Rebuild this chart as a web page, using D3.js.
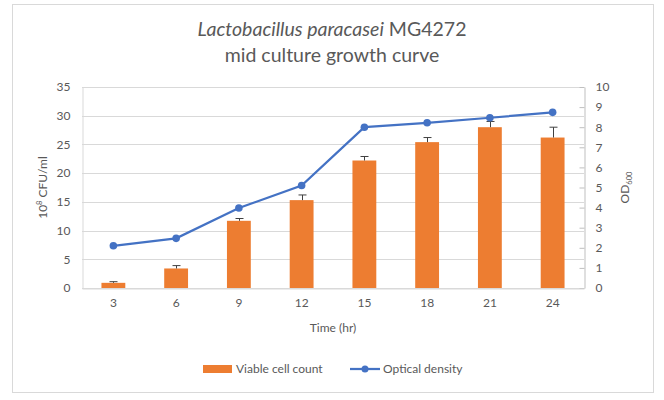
<!DOCTYPE html>
<html>
<head>
<meta charset="utf-8">
<script src="https://cdn.jsdelivr.net/npm/d3@7"></script>
<style>
  body { margin: 0; background: #fff; }
  text { font-family: Lato, "Open Sans", sans-serif; fill: #595959; }
</style>
</head>
<body>
<script>
// data
const hours = ["3", "6", "9", "12", "15", "18", "21", "24"];
const cellCount = [0.9, 3.4, 11.7, 15.3, 22.2, 25.4, 28.0, 26.2]; // 10^8 CFU/ml
const cellErr = [0.2, 0.5, 0.4, 0.9, 0.7, 0.8, 1.0, 1.8];
const opticalDensity = [2.1, 2.47, 3.98, 5.1, 8.0, 8.22, 8.47, 8.74];
const leftTicks = [0, 5, 10, 15, 20, 25, 30, 35];
const rightTicks = [0, 1, 2, 3, 4, 5, 6, 7, 8, 9, 10];

const width = 664;
const height = 400;
const margin = { top: 87, right: 80, bottom: 112, left: 82 };

const orange = "#ED7D31";
const blue = "#4472C4";
const grid = "#d9d9d9";

const svg = d3
  .select("body")
  .append("svg")
  .attr("width", width)
  .attr("height", height);

// chart border
svg
  .append("rect")
  .attr("x", 12.5)
  .attr("y", 4.5)
  .attr("width", 641)
  .attr("height", 388)
  .attr("fill", "#fff")
  .attr("stroke", "#d9d9d9");

const x = d3
  .scaleBand()
  .domain(hours)
  .range([margin.left, width - margin.right])
  .paddingInner(0.62)
  .paddingOuter(0.31);

const yLeft = d3
  .scaleLinear()
  .domain([0, 35])
  .range([height - margin.bottom, margin.top]);

const yRight = d3
  .scaleLinear()
  .domain([0, 10])
  .range([height - margin.bottom, margin.top]);

// gridlines
svg
  .append("g")
  .selectAll("line")
  .data(leftTicks)
  .join("line")
  .attr("x1", margin.left)
  .attr("x2", width - margin.right)
  .attr("y1", (d) => Math.round(yLeft(d)) + 0.5)
  .attr("y2", (d) => Math.round(yLeft(d)) + 0.5)
  .attr("stroke", grid);

// left axis
const leftAxis = svg
  .append("g")
  .attr("transform", `translate(${margin.left + 0.5},0)`)
  .call(d3.axisLeft(yLeft).tickValues(leftTicks).tickSize(0).tickPadding(12));
leftAxis.select(".domain").attr("stroke", grid);
leftAxis.selectAll("text").attr("font-size", 12);

// right axis
const rightAxis = svg
  .append("g")
  .attr("transform", `translate(${width - margin.right + 0.5},0)`)
  .call(d3.axisRight(yRight).tickValues(rightTicks).tickSize(0).tickPadding(11));
rightAxis.select(".domain").attr("stroke", "#bfbfbf");
rightAxis.selectAll("text").attr("font-size", 12);
rightAxis
  .selectAll(".tick")
  .append("line")
  .attr("x1", -5)
  .attr("x2", 0)
  .attr("stroke", "#bfbfbf");

// bottom axis
const bottomAxis = svg
  .append("g")
  .attr("transform", `translate(0,${height - margin.bottom + 0.5})`)
  .call(d3.axisBottom(x).tickSize(0).tickPadding(10));
bottomAxis.select(".domain").attr("stroke", grid);
bottomAxis.selectAll("text").attr("font-size", 12);

// bars
svg
  .append("g")
  .selectAll("rect")
  .data(hours)
  .join("rect")
  .attr("x", (d) => x(d))
  .attr("width", x.bandwidth())
  .attr("y", (d, i) => yLeft(cellCount[i]))
  .attr("height", (d, i) => yLeft(0) - yLeft(cellCount[i]))
  .attr("fill", orange);

// error bars (plus direction)
const errG = svg.append("g").attr("stroke", "#404040").attr("stroke-width", 1);
hours.forEach((h, i) => {
  const cx = Math.round(x(h) + x.bandwidth() / 2) + 0.5;
  const top = yLeft(cellCount[i] + cellErr[i]);
  errG
    .append("line")
    .attr("x1", cx)
    .attr("x2", cx)
    .attr("y1", yLeft(cellCount[i]))
    .attr("y2", top);
  errG
    .append("line")
    .attr("x1", cx - 4)
    .attr("x2", cx + 4)
    .attr("y1", top)
    .attr("y2", top);
});

// optical density line
const line = d3
  .line()
  .x((d, i) => x(hours[i]) + x.bandwidth() / 2)
  .y((d) => yRight(d));

svg
  .append("path")
  .datum(opticalDensity)
  .attr("d", line)
  .attr("fill", "none")
  .attr("stroke", blue)
  .attr("stroke-width", 2.25);

svg
  .append("g")
  .selectAll("circle")
  .data(opticalDensity)
  .join("circle")
  .attr("cx", (d, i) => x(hours[i]) + x.bandwidth() / 2)
  .attr("cy", (d) => yRight(d))
  .attr("r", 3.8)
  .attr("fill", blue);

// title
const title = svg
  .append("text")
  .attr("x", 332)
  .attr("y", 36)
  .attr("text-anchor", "middle")
  .attr("font-size", 19.5);
title.append("tspan").attr("font-style", "italic").text("Lactobacillus paracasei");
title.append("tspan").text(" MG4272");

svg
  .append("text")
  .attr("x", 332)
  .attr("y", 62)
  .attr("text-anchor", "middle")
  .attr("font-size", 19.5)
  .text("mid culture growth curve");

// left axis title
const yl = svg
  .append("text")
  .attr("transform", `translate(47,${(margin.top + height - margin.bottom) / 2}) rotate(-90)`)
  .attr("text-anchor", "middle")
  .attr("font-size", 12);
yl.append("tspan").text("10");
yl.append("tspan").attr("font-size", 7.5).attr("dy", -5).text("8");
yl.append("tspan").attr("dy", 5).text(" CFU/ml");

// right axis title
const yr = svg
  .append("text")
  .attr("transform", `translate(629,${(margin.top + height - margin.bottom) / 2}) rotate(-90)`)
  .attr("text-anchor", "middle")
  .attr("font-size", 12);
yr.append("tspan").text("OD");
yr.append("tspan").attr("font-size", 7.5).attr("dy", 3).text("600");

// x axis title
svg
  .append("text")
  .attr("x", (margin.left + width - margin.right) / 2)
  .attr("y", 332)
  .attr("text-anchor", "middle")
  .attr("font-size", 12)
  .text("Time (hr)");

// legend
const legend = svg.append("g").attr("transform", "translate(0,369)");
legend
  .append("rect")
  .attr("x", 203)
  .attr("y", -4)
  .attr("width", 29)
  .attr("height", 8)
  .attr("fill", orange);
legend
  .append("text")
  .attr("x", 236)
  .attr("y", 4)
  .attr("font-size", 12)
  .text("Viable cell count");
legend
  .append("line")
  .attr("x1", 350)
  .attr("x2", 380)
  .attr("stroke", blue)
  .attr("stroke-width", 2.25);
legend
  .append("circle")
  .attr("cx", 365)
  .attr("r", 3.5)
  .attr("fill", blue);
legend
  .append("text")
  .attr("x", 383)
  .attr("y", 4)
  .attr("font-size", 12)
  .text("Optical density");
</script>
</body>
</html>
